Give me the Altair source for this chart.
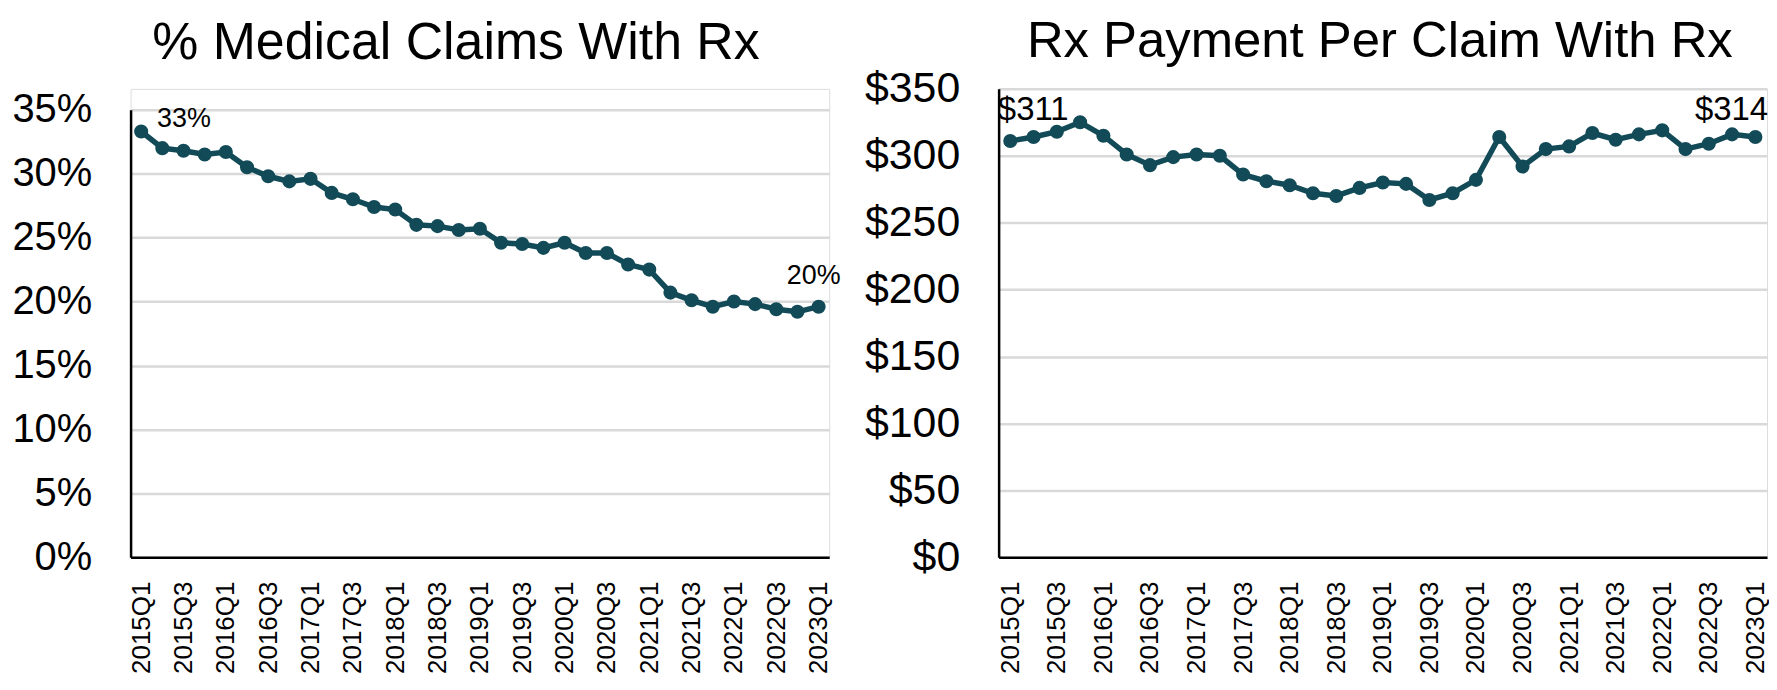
import altair as alt
import pandas as pd

quarters = [
    "2015Q1", "2015Q2", "2015Q3", "2015Q4",
    "2016Q1", "2016Q2", "2016Q3", "2016Q4",
    "2017Q1", "2017Q2", "2017Q3", "2017Q4",
    "2018Q1", "2018Q2", "2018Q3", "2018Q4",
    "2019Q1", "2019Q2", "2019Q3", "2019Q4",
    "2020Q1", "2020Q2", "2020Q3", "2020Q4",
    "2021Q1", "2021Q2", "2021Q3", "2021Q4",
    "2022Q1", "2022Q2", "2022Q3", "2022Q4",
    "2023Q1",
]
tick_labels = [
    "2015Q1", "2015Q3", "2016Q1", "2016Q3", "2017Q1", "2017Q3",
    "2018Q1", "2018Q3", "2019Q1", "2019Q3", "2020Q1", "2020Q3",
    "2021Q1", "2021Q3", "2022Q1", "2022Q3", "2023Q1",
]
pct_with_rx = [
    33.3, 32.0, 31.8, 31.5, 31.7, 30.5, 29.8, 29.4, 29.6, 28.5,
    28.0, 27.4, 27.2, 26.0, 25.9, 25.6, 25.7, 24.6, 24.5, 24.2,
    24.6, 23.8, 23.8, 22.9, 22.5, 20.7, 20.1, 19.6, 20.0, 19.8,
    19.4, 19.2, 19.6,
]
rx_payment = [
    311, 314, 318, 325, 315, 301, 293, 299, 301, 300,
    286, 281, 278, 272, 270, 276, 280, 279, 267, 272,
    282, 314, 292, 305, 307, 317, 312, 316, 319, 305,
    309, 316, 314,
]
pct_ticks = [0, 5, 10, 15, 20, 25, 30, 35]
usd_ticks = [0, 50, 100, 150, 200, 250, 300, 350]

FONT = "Liberation Sans"
LINE = "#124b57"

df_l = pd.DataFrame({"q": quarters, "v": pct_with_rx})
df_r = pd.DataFrame({"q": quarters, "v": rx_payment})


def label_layer(q, v, text, dx, dy, align, size):
    d = pd.DataFrame({"q": [q], "v": [v], "t": [text]})
    return alt.Chart(d).mark_text(
        dx=dx, dy=dy, align=align, baseline="middle", font=FONT,
        fontSize=size, color="#000000"
    ).encode(x=alt.X("q:O", sort=quarters), y="v:Q", text="t:N")


def panel(df, width, height, yscale, yticks, lexpr, ylabsize, title, tsize,
          title_dx, title_offset, labels):
    x = alt.X(
        "q:O", sort=quarters, title=None,
        axis=alt.Axis(
            values=tick_labels, labelAngle=270, labelFontSize=26, labelFont=FONT,
            labelColor="#000000", ticks=False, labelPadding=24, domainColor="#000000",
            domainWidth=2.5, grid=False,
        ),
    )
    y = alt.Y(
        "v:Q", title=None, scale=yscale,
        axis=alt.Axis(
            values=yticks, labelExpr=lexpr, labelFontSize=ylabsize, labelFont=FONT,
            labelColor="#000000", ticks=False, labelPadding=39, domainColor="#000000",
            domainWidth=2.5, grid=True, gridColor="#d9d9d9", gridWidth=2.5,
        ),
    )
    base = alt.Chart(df).encode(x=x, y=y)
    line = base.mark_line(color=LINE, strokeWidth=5.5)
    pts = base.mark_point(filled=True, color=LINE, size=200, opacity=1)
    layers = [line, pts] + labels
    return alt.layer(*layers).properties(
        width=width, height=height,
        title=alt.TitleParams(
            title, fontSize=tsize, font=FONT, fontWeight="normal", color="#000000",
            anchor="middle", frame="group", dx=title_dx, offset=title_offset,
        ),
    )


left = panel(
    df_l, 701, 470,
    alt.Scale(domain=[0, 35], range=[470, 21], nice=False, zero=True),
    pct_ticks, "datum.value + '%'", 40,
    "% Medical Claims With Rx", 52, -24, 19,
    [
        label_layer(quarters[0], pct_with_rx[0], f"{round(pct_with_rx[0])}%", 16, -13, "left", 27),
        label_layer(quarters[-1], pct_with_rx[-1], f"{round(pct_with_rx[-1])}%", -5, -31, "center", 27),
    ],
)
right = panel(
    df_r, 771, 470,
    alt.Scale(domain=[0, 350], nice=False, zero=True),
    usd_ticks, "'$' + datum.value", 43,
    "Rx Payment Per Claim With Rx", 51, -3, 0,
    [
        label_layer(quarters[0], rx_payment[0], f"${rx_payment[0]}", 23, -31, "center", 33),
        label_layer(quarters[-1], rx_payment[-1], f"${rx_payment[-1]}", -24, -27, "center", 33),
    ],
)

chart = alt.hconcat(left, right, spacing=22).properties(
    padding={"left": 3, "top": 6, "right": 0, "bottom": 0}
).configure_view(strokeWidth=0).configure(background="white")

chart.save("out.html", embed_options={"renderer": "svg", "actions": False})
